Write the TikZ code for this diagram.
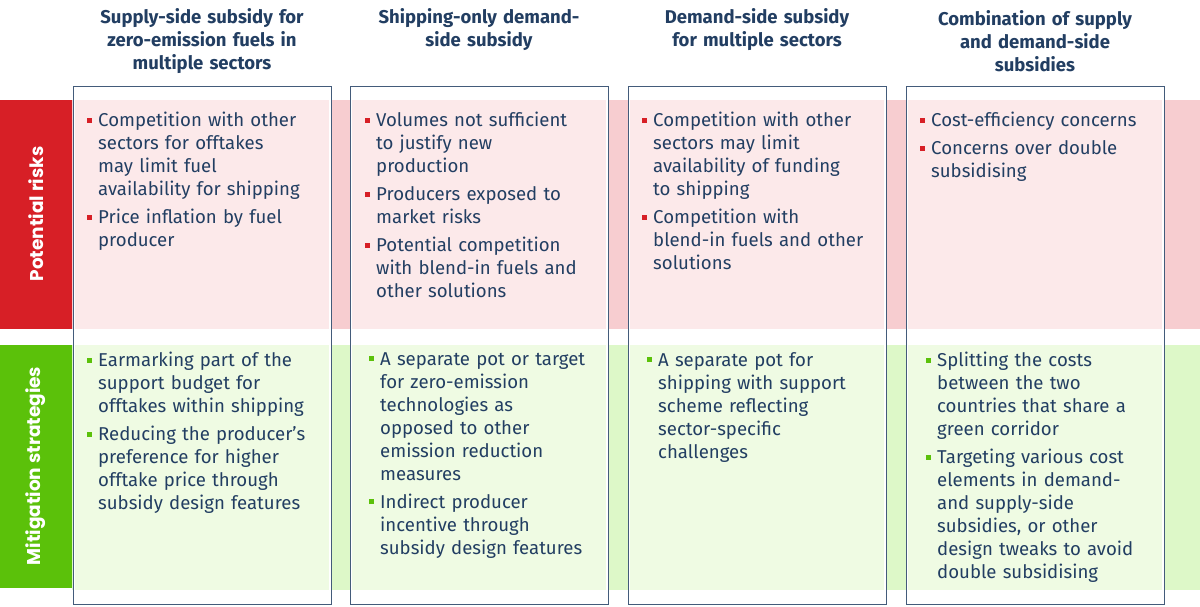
\documentclass[tikz,border=0pt]{standalone}
\usepackage{fontspec}
\setmainfont{Fira Sans}
\newfontfamily\labfont{Poppins}
\definecolor{navy}{HTML}{223E62}
\definecolor{rd}{HTML}{D71F26}
\definecolor{pkin}{HTML}{FCE9EA}
\definecolor{pkgap}{HTML}{F7CDD0}
\definecolor{gr}{HTML}{5BC10A}
\definecolor{grin}{HTML}{EFFBE3}
\definecolor{grgap}{HTML}{DDF8C8}
\newcommand{\itm}[2]{\leavevmode\llap{\textcolor{#1}{\raisebox{4pt}{\rule{5pt}{5pt}}}\hspace{6pt}}#2\par\vspace{5pt}}
\tikzset{
  hdr/.style={anchor=center,align=center,text width=250pt,font=\fontsize{18.5}{23}\selectfont\bfseries,text=navy},
  cell/.style={anchor=north west,align=left,text width=250pt,inner sep=0pt,font=\fontsize{18.6}{23}\selectfont,text=navy},
  lab/.style={rotate=90,text=white,font=\labfont\fontsize{18.5}{20}\selectfont\bfseries}
}
\begin{document}
\begin{tikzpicture}[x=1pt,y=-1pt]
\useasboundingbox (0,0) rectangle (1200,606);
\fill[white] (0,0) rectangle (1200,606);
\fill[pkgap] (72,100) rectangle (1200,329);
\fill[grgap] (72,345) rectangle (1200,590);
\fill[rd] (0,100) rectangle (72,329);
\fill[gr] (0,345) rectangle (72,588);
\node[lab] (l1) at (36,214) {Potential risks};
\node[lab] (l2) at (36,466) {Mitigation strategies};
\foreach \x/\n in {73/a,350/b,628/c,906/d}{
  \fill[white] (\x,86) rectangle (\x+258,604);
  \fill[pkin] (\x+2,100) rectangle (\x+256,329);
  \fill[grin] (\x+2,345) rectangle (\x+256,590);
  \draw[navy!85!white,line width=1pt] (\x,86) rectangle (\x+258,604);
}
\node[hdr] (h1) at (202,41) {Supply-side subsidy for\\zero-emission fuels in\\multiple sectors};
\node[hdr] (h2) at (479,30) {Shipping-only demand-\\side subsidy};
\node[hdr] (h3) at (757,30) {Demand-side subsidy\\for multiple sectors};
\node[hdr] (h4) at (1035,41) {Combination of supply\\and demand-side\\subsidies};
\node[cell] (r1) at (98,112) {\itm{rd}{Competition with other\newline sectors for offtakes\newline may limit fuel\newline availability for shipping}\itm{rd}{Price inflation by fuel\newline producer}};
\node[cell] (r2) at (376,112) {\itm{rd}{Volumes not sufficient\newline to justify new\newline production}\itm{rd}{Producers exposed to\newline market risks}\itm{rd}{Potential competition\newline with blend-in fuels and\newline other solutions}};
\node[cell] (r3) at (653,112) {\itm{rd}{Competition with other\newline sectors may limit\newline availability of funding\newline to shipping}\itm{rd}{Competition with\newline blend-in fuels and other\newline solutions}};
\node[cell] (r4) at (931,112) {\itm{rd}{Cost-efficiency concerns}\itm{rd}{Concerns over double\newline subsidising}};
\node[cell] (m1) at (98,352) {\itm{gr}{Earmarking part of the\newline support budget for\newline offtakes within shipping}\itm{gr}{Reducing the producer’s\newline preference for higher\newline offtake price through\newline subsidy design features}};
\node[cell] (m2) at (380,352) {\itm{gr}{A separate pot or target\newline for zero-emission\newline technologies as\newline opposed to other\newline emission reduction\newline measures}\itm{gr}{Indirect producer\newline incentive through\newline subsidy design features}};
\node[cell] (m3) at (658,352) {\itm{gr}{A separate pot for\newline shipping with support\newline scheme reflecting\newline sector-specific\newline challenges}};
\node[cell] (m4) at (937,352) {\itm{gr}{Splitting the costs\newline between the two\newline countries that share a\newline green corridor}\itm{gr}{Targeting various cost\newline elements in demand-\newline and supply-side\newline subsidies, or other\newline design tweaks to avoid\newline double subsidising}};
\end{tikzpicture}
\end{document}
